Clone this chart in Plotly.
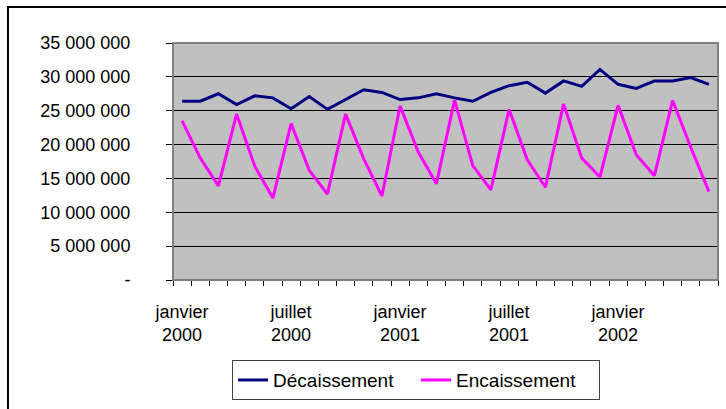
import plotly.graph_objects as go

# months jan 2000 -> jun 2002
noms_mois = ['janvier', 'février', 'mars', 'avril', 'mai', 'juin',
             'juillet', 'août', 'septembre', 'octobre', 'novembre', 'décembre']
mois = [f'{noms_mois[i % 12]} {2000 + i // 12}' for i in range(30)]

decaissement = [26400000, 26400000, 27500000, 25900000, 27200000, 26900000,
                25300000, 27100000, 25200000, 26650000, 28100000, 27700000,
                26650000, 26900000, 27500000, 26900000, 26400000, 27700000,
                28700000, 29200000, 27600000, 29400000, 28600000, 31100000,
                28900000, 28300000, 29400000, 29400000, 29900000, 28900000]

encaissement = [23500000, 18000000, 13900000, 24500000, 16800000, 12100000,
                23100000, 16200000, 12700000, 24500000, 17900000, 12400000,
                25700000, 18900000, 14200000, 26600000, 16900000, 13300000,
                25200000, 17750000, 13700000, 26000000, 18000000, 15200000,
                25800000, 18500000, 15400000, 26500000, 19600000, 13050000]

y_ticks = [0, 5000000, 10000000, 15000000, 20000000, 25000000, 30000000, 35000000]
y_labels = ['-', '5 000 000', '10 000 000', '15 000 000', '20 000 000',
            '25 000 000', '30 000 000', '35 000 000']

x = list(range(len(mois)))
x_ticks = [i for i in x if i % 6 == 0]
x_labels = [mois[i].replace(' ', '<br>') for i in x_ticks]

fig = go.Figure()
fig.add_trace(go.Scatter(x=x, y=decaissement, name='Décaissement', mode='lines',
                         line=dict(color='#000080', width=3)))
fig.add_trace(go.Scatter(x=x, y=encaissement, name='Encaissement', mode='lines',
                         line=dict(color='#FF00FF', width=3)))

fig.update_layout(
    width=726, height=409,
    margin=dict(l=173, r=8, t=43, b=129),
    plot_bgcolor='#C0C0C0',
    paper_bgcolor='white',
    font=dict(family='Liberation Sans, Arial', size=18, color='black'),
    showlegend=True,
    legend=dict(orientation='h', x=0.446, xanchor='center', y=-0.338, yanchor='top',
                bordercolor='#404040', borderwidth=1, bgcolor='white',
                font=dict(size=19), entrywidth=138, tracegroupgap=0),
    xaxis=dict(range=[-0.5, len(mois) - 0.5], tickvals=x_ticks, ticktext=x_labels,
               ticks='', showgrid=False, zeroline=False, automargin=False,
               showline=True, linecolor='black', linewidth=1,
               minor=dict(tick0=-0.5, dtick=1, ticks='outside', ticklen=5,
                          tickcolor='black', showgrid=False),
               tickfont=dict(size=18), ticklabelstandoff=15),
    yaxis=dict(range=[0, 35000000], tickvals=y_ticks, ticktext=y_labels,
               ticks='outside', ticklen=6, tickcolor='black', automargin=False,
               showgrid=True, gridcolor='black', gridwidth=1, zeroline=False,
               showline=True, linecolor='black', linewidth=1,
               tickfont=dict(size=18), ticklabelstandoff=32),
)

# plot area border (top / right) and outer chart frame
fig.add_shape(type='rect', xref='paper', yref='paper', x0=0, x1=1, y0=0, y1=1,
              line=dict(color='#808080', width=2), layer='above')
fig.add_shape(type='rect', xref='paper', yref='paper', x0=-0.3028, x1=1.1, y0=-0.6, y1=1.152,
              line=dict(color='black', width=2))

# page body has a default 8px margin; drop it so the chart sits at 0,0
fig.write_html("out.html", config={'displayModeBar': False},
               post_script="document.body.style.margin='0';")
